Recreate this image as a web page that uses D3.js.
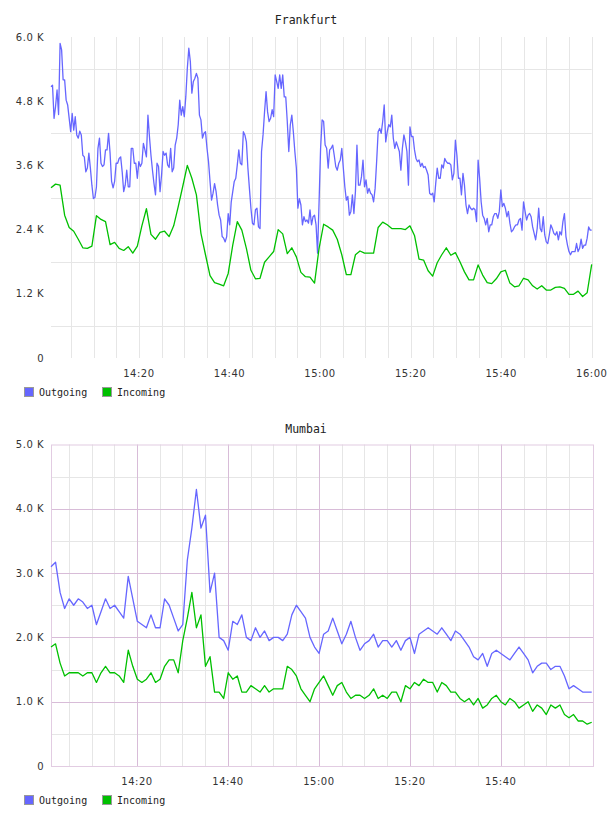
<!DOCTYPE html>
<html>
<head>
<meta charset="utf-8">
<script src="https://cdn.jsdelivr.net/npm/d3@7"></script>
<style>
  body { margin: 0; background: #fff; }
  text { font-family: 'DejaVu Sans', sans-serif; }
</style>
</head>
<body>
<svg id="chart" width="608" height="816"></svg>
<script>
// values in K (thousands)
const frankfurtOutgoing = [
  5.07, 5.10, 4.48, 4.70, 5.01, 4.55, 5.88, 5.76, 5.20, 5.20,
  4.82, 4.73, 4.48, 4.23, 4.57, 4.26, 4.51, 4.17, 4.11, 4.24,
  4.17, 3.79, 3.76, 3.48, 3.55, 3.83, 3.55, 3.23, 2.98, 3.00,
  3.20, 3.92, 4.11, 3.64, 3.58, 3.61, 3.89, 3.89, 4.20, 3.83,
  3.30, 3.18, 3.30, 3.64, 3.64, 3.73, 3.76, 3.48, 3.11, 3.23, 3.51,
  3.20, 3.20, 3.92, 3.92, 3.64, 3.64, 3.36, 3.67, 3.58, 3.64,
  4.01, 3.89, 3.76, 4.54, 4.14, 3.79, 3.51, 3.26, 3.05, 3.64,
  3.58, 3.11, 3.42, 3.86, 3.79, 3.83, 3.61, 3.56, 3.92, 3.48,
  3.55, 3.98, 4.11, 4.36, 4.82, 4.54, 4.70, 4.51, 4.88,
  5.41, 5.79, 5.54, 4.95, 5.17, 5.23, 5.32, 5.23, 4.54, 4.45,
  4.11, 4.20, 4.23, 3.92, 3.67, 3.30, 2.95, 3.08, 3.26, 3.11,
  2.86, 2.67, 2.58, 2.27, 2.24, 2.17, 2.27, 2.70, 2.49, 2.92,
  3.11, 3.30, 3.36, 3.61, 3.89, 3.64, 3.61, 4.23, 4.17, 4.04,
  3.55, 3.17, 2.80, 2.52, 2.49, 2.77, 2.80, 2.45, 2.42, 3.86,
  4.17, 4.60, 4.98, 4.60, 4.42, 4.48, 4.64, 4.51, 5.29, 5.17,
  5.04, 5.29, 5.04, 5.29, 4.88, 4.88, 4.42, 3.86, 4.36, 4.54,
  4.23, 3.86, 3.55, 2.80, 2.98, 2.86, 2.49, 2.64, 2.55, 2.58,
  2.52, 2.77, 2.49, 2.64, 2.67, 2.49, 1.96, 2.92, 3.92, 4.45,
  4.42,
  3.98, 3.92, 3.55, 3.89, 3.92, 3.98, 3.79, 3.58, 3.51, 3.64,
  3.70, 3.92, 3.55, 3.20, 2.95, 3.02, 2.67, 2.74, 3.05, 2.70,
  3.11, 3.98, 3.23, 3.23, 3.39, 3.70, 3.20, 3.33, 3.08, 3.17,
  3.08, 3.05, 2.92, 3.17, 3.67, 4.23, 4.29, 4.20, 4.42, 4.73,
  4.04, 4.23, 4.36, 4.32, 4.54, 4.11, 3.92, 4.04, 3.95, 3.86,
  3.51, 3.92, 4.17, 4.04, 3.86, 3.23, 4.32, 4.14, 4.14, 3.89,
  3.73, 3.67, 3.70, 3.58, 3.64, 3.56, 3.58, 3.51, 3.42, 3.08,
  3.05, 3.08, 2.92, 3.26, 3.55, 3.36, 3.36, 3.61, 3.55, 3.73,
  3.67, 3.64, 3.64, 3.61, 3.33, 3.45, 4.07, 3.79, 3.36, 3.36,
  3.05,
  3.45, 3.23, 2.86, 2.70, 2.86, 2.80, 2.77, 2.80, 2.77, 2.55,
  3.70, 3.36, 2.92, 2.67, 2.61, 2.49, 2.61, 2.36, 2.49, 2.49,
  2.64, 2.70, 2.70, 2.61, 2.74, 3.14, 2.83, 2.89, 2.80, 2.64,
  2.74, 2.52, 2.36, 2.39, 2.45, 2.49, 2.49, 2.58, 2.61, 2.39,
  2.92, 2.74, 2.58, 2.67, 2.70, 2.64, 2.45, 2.33, 2.21, 2.42,
  2.80, 2.42, 2.36, 2.64, 2.30, 2.17, 2.14, 2.30, 2.49, 2.42,
  2.33, 2.30, 2.36, 2.21, 2.36, 2.30, 2.55, 2.70, 2.27, 2.11,
  1.99, 1.93, 1.99, 1.99, 1.99, 2.14, 1.99, 2.05, 2.22, 2.05,
  2.11, 2.11, 2.24, 2.45, 2.39, 2.39,
]

const frankfurtIncoming = [
  3.18, 3.25, 3.23, 2.67, 2.44, 2.37, 2.22, 2.06, 2.05, 2.09,
  2.66, 2.59, 2.55, 2.12, 2.16, 2.05, 2.01, 2.08, 1.96, 2.09,
  2.47, 2.79, 2.31, 2.22, 2.35, 2.37, 2.27, 2.47, 2.83, 3.21,
  3.60, 3.36, 3.05, 2.33, 1.93, 1.54, 1.41, 1.38, 1.35, 1.58,
  2.11, 2.55, 2.39, 2.05, 1.64, 1.48, 1.49, 1.79, 1.89, 1.99,
  2.40, 2.32, 1.95, 2.06, 1.89, 1.60, 1.52, 1.51, 1.40, 2.05,
  2.50, 2.45, 2.39, 2.22, 1.93, 1.56, 1.56, 1.93, 2.00, 1.96,
  1.96, 1.96, 2.44, 2.54, 2.49, 2.42, 2.42, 2.42, 2.40, 2.47,
  2.29, 1.85, 1.83, 1.63, 1.53, 1.78, 1.93, 2.06, 1.92, 1.97,
  1.80, 1.61, 1.46, 1.46, 1.74, 1.55, 1.41, 1.39, 1.48, 1.61,
  1.64, 1.40, 1.33, 1.35, 1.49, 1.46, 1.35, 1.29, 1.35, 1.27,
  1.27, 1.32, 1.33, 1.30, 1.19, 1.19, 1.25, 1.15, 1.22, 1.75,
]

const mumbaiOutgoing = [
  3.10, 3.17, 2.70, 2.45, 2.60, 2.50, 2.60, 2.55, 2.45, 2.50,
  2.20, 2.40, 2.60, 2.45, 2.50, 2.40, 2.30, 2.95, 2.60, 2.25,
  2.20, 2.15, 2.35, 2.15, 2.15, 2.60, 2.50, 2.30, 2.10, 2.20,
  3.20, 3.70, 4.30, 3.70, 3.90, 2.70, 3.00, 2.00, 1.95, 1.80,
  2.25, 2.20, 2.35, 2.00, 1.95, 2.15, 2.00, 2.10, 1.95, 2.00,
  2.00, 1.95, 2.05, 2.35, 2.50, 2.40, 2.30, 2.00, 1.85, 1.75,
  2.05, 2.10, 2.30, 2.10, 1.90, 2.05, 2.25, 2.00, 1.80, 1.90,
  1.95, 2.05, 1.85, 1.95, 1.95, 1.85, 1.95, 1.80, 1.95, 2.00,
  1.75, 2.05, 2.10, 2.15, 2.10, 2.05, 2.15, 2.05, 1.95, 2.10,
  2.05, 1.95, 1.85, 1.70, 1.65, 1.75, 1.55, 1.75, 1.80, 1.75,
  1.70, 1.65, 1.75, 1.85, 1.75, 1.65, 1.45, 1.55, 1.60, 1.60,
  1.50, 1.55, 1.55, 1.40, 1.20, 1.25, 1.20, 1.15, 1.15, 1.15,
]

const mumbaiIncoming = [
  1.85, 1.90, 1.60, 1.40, 1.45, 1.45, 1.45, 1.40, 1.45, 1.45,
  1.30, 1.45, 1.55, 1.45, 1.45, 1.40, 1.30, 1.80, 1.55, 1.35,
  1.30, 1.35, 1.45, 1.30, 1.35, 1.55, 1.65, 1.65, 1.45, 1.95,
  2.30, 2.70, 2.15, 2.35, 1.55, 1.70, 1.15, 1.15, 1.05, 1.45,
  1.35, 1.40, 1.15, 1.15, 1.25, 1.20, 1.15, 1.25, 1.15, 1.20,
  1.20, 1.20, 1.55, 1.50, 1.40, 1.20, 1.10, 1.00, 1.20, 1.30,
  1.40, 1.25, 1.10, 1.25, 1.30, 1.15, 1.05, 1.10, 1.10, 1.05,
  1.10, 1.20, 1.05, 1.10, 1.05, 1.15, 1.15, 1.00, 1.25, 1.20,
  1.30, 1.25, 1.35, 1.30, 1.30, 1.15, 1.30, 1.25, 1.15, 1.15,
  1.05, 1.00, 1.05, 0.95, 1.05, 0.90, 0.95, 1.05, 1.10, 1.00,
  0.95, 1.05, 1.00, 0.90, 0.95, 1.00, 0.85, 0.95, 0.90, 0.80,
  0.95, 0.90, 0.95, 0.80, 0.75, 0.80, 0.70, 0.70, 0.65, 0.68,
]

const seriesNames = ['Outgoing', 'Incoming']
const seriesColors = ['#6666ff', '#00c000']

const frankfurtYLabels = [0, 1.2, 2.4, 3.6, 4.8, 6.0]
const frankfurtYGrid = [0.6, 1.8, 3.0, 4.2, 5.4]
const mumbaiYLabels = [0, 1, 2, 3, 4, 5]
const mumbaiYMinor = [0.5, 1.5, 2.5, 3.5, 4.5]
const mumbaiYMajor = [1, 2, 3, 4]

const frankfurtXLabels = ['14:20', '14:40', '15:00', '15:20', '15:40', '16:00']
const mumbaiXLabels = ['14:20', '14:40', '15:00', '15:20', '15:40']

const at = s => new Date(`2020-01-01T${s}`)
const svg = d3.select('#chart')

function toPoints(values, start, end) {
  const step = (end - start) / (values.length - 1)
  return values.map((v, i) => ({ time: new Date(+start + i * step), value: v }))
}

function kLabel(v) {
  return v === 0 ? '0' : `${v.toFixed(1)} K`
}

function renderChart({
  title,
  titleY,
  series,
  dataStart,
  dataEnd,
  domainStart,
  domainEnd,
  lastGridTime,
  left,
  right,
  top,
  bottom,
  yMax,
  yLabels,
  yMinor,
  yMajor = [],
  xLabels,
  framed = false,
  legendY,
}) {
  const g = svg.append('g')
  const minorColor = '#e6e6e6'
  const majorColor = '#d8bcd8'

  const xScale = d3.scaleTime().domain([domainStart, domainEnd]).range([left, right])
  const yScale = d3.scaleLinear().domain([0, yMax]).range([bottom, top])

  g.append('text')
    .attr('x', 306)
    .attr('y', titleY)
    .attr('text-anchor', 'middle')
    .style('font-family', 'DejaVu Sans Mono, monospace')
    .style('font-size', '11.5px')
    .attr('fill', '#222')
    .text(title)

  // grid, every 5 minutes; the labelled ones are the major lines when framed
  const minorTimes = d3.timeMinute.every(5).range(domainStart, +lastGridTime + 1)
  const majorMinutes = xLabels.map(d => +at(d))
  const isMajorTime = d => framed && majorMinutes.includes(+d)
  const grid = g.append('g')
  grid.selectAll('line.vx')
    .data(minorTimes)
    .join('line')
    .attr('class', 'vx')
    .attr('x1', d => Math.round(xScale(d)) + 0.5)
    .attr('x2', d => Math.round(xScale(d)) + 0.5)
    .attr('y1', top)
    .attr('y2', bottom)
    .attr('stroke', d => isMajorTime(d) ? majorColor : minorColor)

  grid.selectAll('line.hy')
    .data(yMinor.concat(yMajor))
    .join('line')
    .attr('class', 'hy')
    .attr('x1', left)
    .attr('x2', right)
    .attr('y1', d => Math.round(yScale(d)) + 0.5)
    .attr('y2', d => Math.round(yScale(d)) + 0.5)
    .attr('stroke', d => yMajor.includes(d) ? majorColor : minorColor)

  // major lines drawn last so they stay on top of the minor ones
  grid.selectAll('line').filter(function () {
    return d3.select(this).attr('stroke') === majorColor
  }).raise()

  if (framed) {
    grid.append('rect')
      .attr('x', left + 0.5)
      .attr('y', top + 0.5)
      .attr('width', right - left - 1)
      .attr('height', bottom - top)
      .attr('fill', 'none')
      .attr('stroke', '#e2cce2')
  }

  // axes text
  g.append('g')
    .selectAll('text')
    .data(yLabels)
    .join('text')
    .attr('x', 44)
    .attr('y', d => yScale(d))
    .attr('dy', '0.35em')
    .attr('text-anchor', 'end')
    .style('font-size', '10px')
    .style('letter-spacing', '0.5px')
    .attr('fill', '#333')
    .text(kLabel)

  g.append('g')
    .selectAll('text')
    .data(xLabels)
    .join('text')
    .attr('x', d => xScale(at(d)))
    .attr('y', bottom + 19)
    .attr('text-anchor', 'middle')
    .style('font-size', '10px')
    .style('letter-spacing', '0.5px')
    .attr('fill', '#333')
    .text(d => d)

  // lines
  const line = d3.line().x(d => xScale(d.time)).y(d => yScale(d.value))
  series.forEach((values, i) => {
    g.append('path')
      .datum(toPoints(values, dataStart, dataEnd))
      .attr('fill', 'none')
      .attr('stroke', seriesColors[i])
      .attr('stroke-width', 1.3)
      .attr('stroke-linejoin', 'round')
      .attr('d', line)
  })

  // legend
  const legend = g.append('g').attr('transform', `translate(24, ${legendY})`)
  const items = legend.selectAll('g')
    .data(seriesNames)
    .join('g')
    .attr('transform', (d, i) => `translate(${i * 78}, 0)`)
  items.append('rect')
    .attr('x', 0.5)
    .attr('y', 0.5)
    .attr('width', 9)
    .attr('height', 9)
    .attr('fill', (d, i) => seriesColors[i])
    .attr('stroke', '#999')
  items.append('text')
    .attr('x', 15)
    .attr('y', 8.5)
    .style('font-family', 'DejaVu Sans Mono, monospace')
    .style('font-size', '10px')
    .attr('fill', '#222')
    .text(d => d)
}

renderChart({
  title: 'Frankfurt',
  titleY: 24,
  series: [frankfurtOutgoing, frankfurtIncoming],
  dataStart: at('14:00:35'),
  dataEnd: at('16:00:00'),
  domainStart: at('14:00:35'),
  domainEnd: at('16:00:00'),
  lastGridTime: at('16:00:00'),
  left: 51,
  right: 591.7,
  top: 37,
  bottom: 358,
  yMax: 6,
  yLabels: frankfurtYLabels,
  yMinor: frankfurtYGrid,
  xLabels: frankfurtXLabels,
  legendY: 387,
})

renderChart({
  title: 'Mumbai',
  titleY: 433,
  series: [mumbaiOutgoing, mumbaiIncoming],
  dataStart: at('14:01:05'),
  dataEnd: at('16:00:00'),
  domainStart: at('14:01:05'),
  domainEnd: at('16:00:30'),
  lastGridTime: at('15:55:00'),
  left: 51,
  right: 594,
  top: 444.5,
  bottom: 766,
  yMax: 5,
  yLabels: mumbaiYLabels,
  yMinor: mumbaiYMinor,
  yMajor: mumbaiYMajor,
  xLabels: mumbaiXLabels,
  framed: true,
  legendY: 795,
})
</script>
</body>
</html>
